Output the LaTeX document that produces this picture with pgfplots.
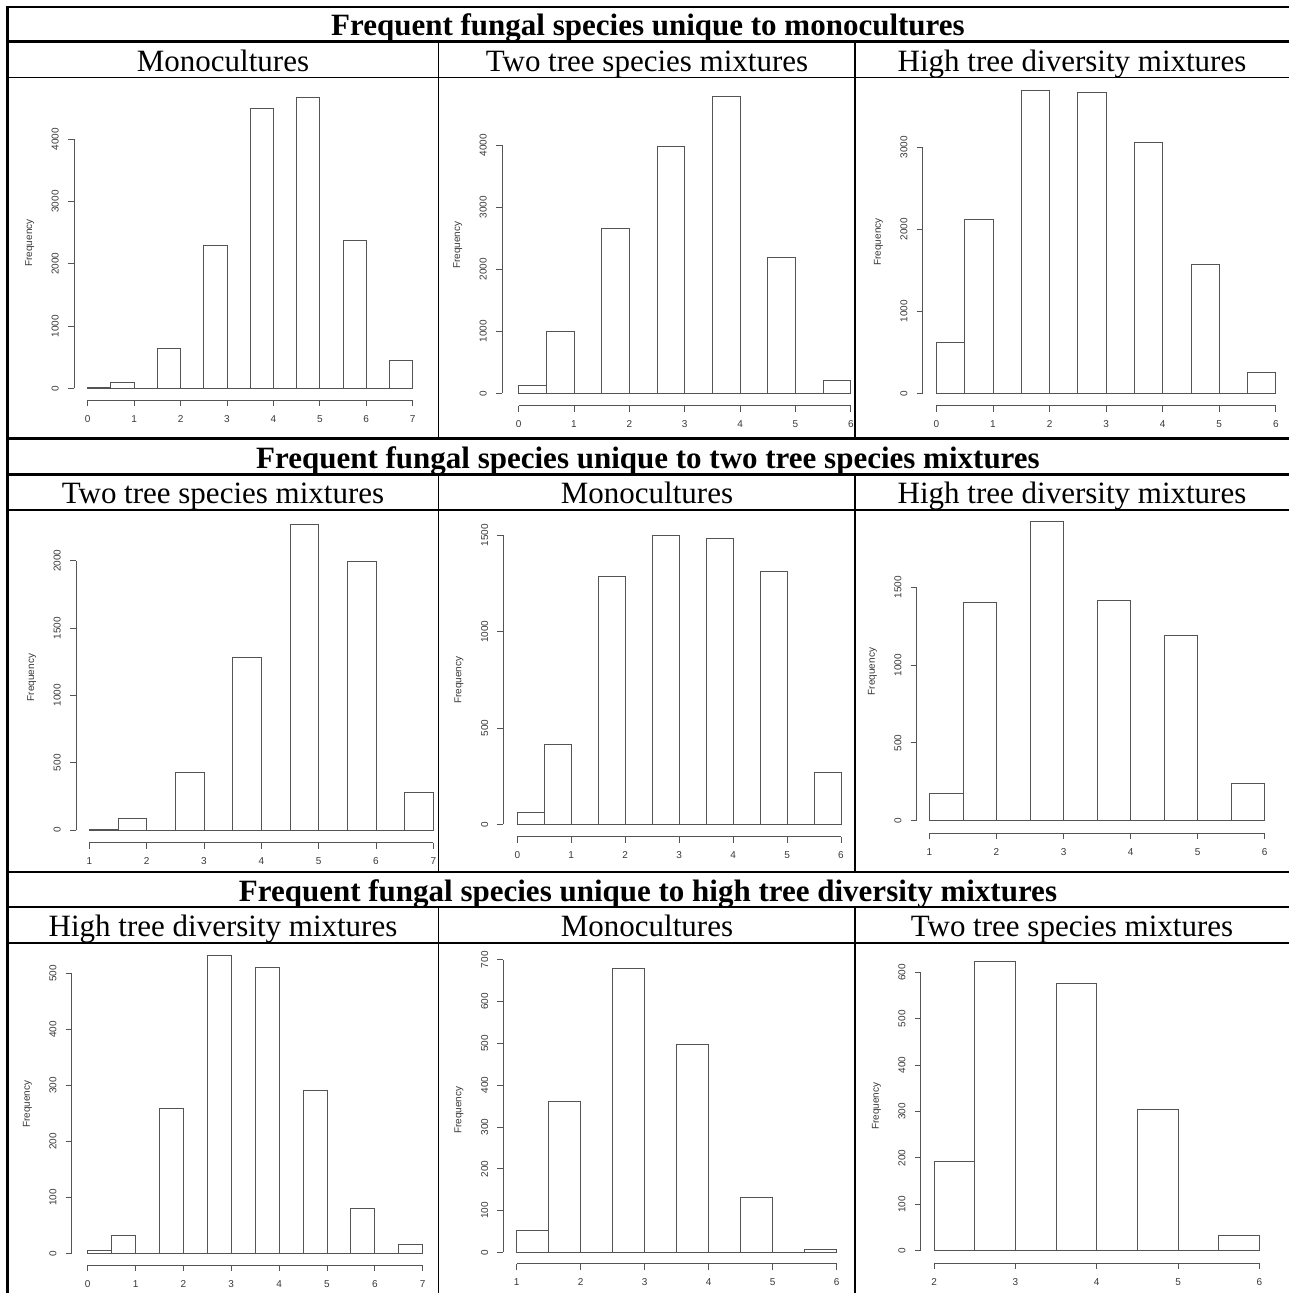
\documentclass[border=0pt]{standalone}
\usepackage{fontspec}
\setmainfont{Liberation Serif}
\setsansfont{Liberation Sans}
\usepackage{pgfplots}
\pgfplotsset{compat=1.18}
\definecolor{lc}{gray}{0.33}
\definecolor{tc}{gray}{0.22}
\pgfplotsset{
  rhist/.style={
    scale only axis, anchor=south west, clip=false,
    axis line style={draw=none},
    tick pos=left, tick align=outside,
    major tick length=6pt,
    tick style={draw=lc, line width=0.9pt},
    tick label style={font=\fontsize{10}{12}\selectfont\sffamily, text=tc, inner sep=0pt,
      /pgf/number format/assume math mode=true, /pgf/number format/1000 sep={}},
    xticklabel style={anchor=north},
    yticklabel style={rotate=90, anchor=south},
    xticklabel shift=9pt, yticklabel shift=9pt,
    scaled ticks=false,
    ylabel={Frequency},
    ylabel style={font=\fontsize{10}{12}\selectfont\sffamily, text=tc},
    ylabel shift=14pt,
  },
  hbar/.style={ybar, bar width=0.5, bar shift=0pt, draw=lc, fill=white, line width=0.9pt},
  axl/.style={draw=lc, line width=0.9pt, no marks},
}
\newcommand{\hfont}{\fontsize{31}{36}\selectfont}
\begin{document}
\begin{tikzpicture}[x=1pt, y=-1pt]
% ---------- Row 1 ----------
\begin{axis}[rhist, at={(74pt,-400pt)}, width=352.4pt, height=314pt,
  xmin=-0.295, xmax=7.295, ymin=-188, ymax=4856,
  xtick={0,...,7}, ytick={0,1000,...,4000}]
\addplot[hbar] coordinates {(0.25,8)(0.75,90)(1.25,0)(1.75,640)(2.25,0)(2.75,2290)(3.25,0)(3.75,4500)(4.25,0)(4.75,4670)(5.25,0)(5.75,2370)(6.25,0)(6.75,455)};
\addplot[axl] coordinates {(0,-188)(7,-188)};
\addplot[axl] coordinates {(-0.295,0)(-0.295,4000)};
\end{axis}
\begin{axis}[rhist, at={(502pt,-405.7pt)}, width=365.5pt, height=320.9pt,
  xmin=-0.30, xmax=6.30, ymin=-200, ymax=4976,
  xtick={0,...,6}, ytick={0,1000,...,4000}]
\addplot[hbar] coordinates {(0.25,134)(0.75,995)(1.25,0)(1.75,2667)(2.25,0)(2.75,3978)(3.25,0)(3.75,4785)(4.25,0)(4.75,2194)(5.25,0)(5.75,204)};
\addplot[axl] coordinates {(0,-200)(6,-200)};
\addplot[axl] coordinates {(-0.30,0)(-0.30,4000)};
\end{axis}
\begin{axis}[rhist, at={(922.7pt,-405.7pt)}, width=366.8pt, height=327.5pt,
  xmin=-0.242, xmax=6.242, ymin=-151, ymax=3838,
  xtick={0,...,6}, ytick={0,1000,...,3000}]
\addplot[hbar] coordinates {(0.25,621)(0.75,2123)(1.25,0)(1.75,3690)(2.25,0)(2.75,3666)(3.25,0)(3.75,3053)(4.25,0)(4.75,1567)(5.25,0)(5.75,252)};
\addplot[axl] coordinates {(0,-151)(6,-151)};
\addplot[axl] coordinates {(-0.242,0)(-0.242,3000)};
\end{axis}
% ---------- Row 2 ----------
\begin{axis}[rhist, at={(76pt,-842.7pt)}, width=370.6pt, height=330.2pt,
  xmin=0.768, xmax=7.232, ymin=-94, ymax=2358,
  xtick={1,...,7}, ytick={0,500,...,2000}]
\addplot[hbar] coordinates {(1.25,5)(1.75,87)(2.25,0)(2.75,428)(3.25,0)(3.75,1280)(4.25,0)(4.75,2267)(5.25,0)(5.75,1993)(6.25,0)(6.75,277)};
\addplot[axl] coordinates {(1,-94)(7,-94)};
\addplot[axl] coordinates {(0.768,0)(0.768,2000)};
\end{axis}
\begin{axis}[rhist, at={(503.3pt,-836.7pt)}, width=351.7pt, height=313.3pt,
  xmin=-0.26, xmax=6.26, ymin=-64, ymax=1562,
  xtick={0,...,6}, ytick={0,500,...,1500}]
\addplot[hbar] coordinates {(0.25,61)(0.75,417)(1.25,0)(1.75,1287)(2.25,0)(2.75,1502)(3.25,0)(3.75,1483)(4.25,0)(4.75,1311)(5.25,0)(5.75,272)};
\addplot[axl] coordinates {(0,-64)(6,-64)};
\addplot[axl] coordinates {(-0.26,0)(-0.26,1500)};
\end{axis}
\begin{axis}[rhist, at={(916.7pt,-833.3pt)}, width=360.8pt, height=323.6pt,
  xmin=0.81, xmax=6.19, ymin=-81, ymax=1999,
  xtick={1,...,6}, ytick={0,500,...,1500}]
\addplot[hbar] coordinates {(1.25,178)(1.75,1401)(2.25,0)(2.75,1922)(3.25,0)(3.75,1416)(4.25,0)(4.75,1189)(5.25,0)(5.75,238)};
\addplot[axl] coordinates {(1,-81)(6,-81)};
\addplot[axl] coordinates {(0.81,0)(0.81,1500)};
\end{axis}
% ---------- Row 3 ----------
\begin{axis}[rhist, at={(71.7pt,-1265pt)}, width=367.0pt, height=321.4pt,
  xmin=-0.334, xmax=7.334, ymin=-21, ymax=553,
  xtick={0,...,7}, ytick={0,100,...,500}]
\addplot[hbar] coordinates {(0.25,5)(0.75,32)(1.25,0)(1.75,259)(2.25,0)(2.75,532)(3.25,0)(3.75,511)(4.25,0)(4.75,290)(5.25,0)(5.75,80)(6.25,0)(6.75,16)};
\addplot[axl] coordinates {(0,-21)(7,-21)};
\addplot[axl] coordinates {(-0.334,0)(-0.334,500)};
\end{axis}
\begin{axis}[rhist, at={(503.3pt,-1263.7pt)}, width=346.6pt, height=306.9pt,
  xmin=0.792, xmax=6.208, ymin=-27, ymax=707,
  xtick={1,...,6}, ytick={0,100,...,700}]
\addplot[hbar] coordinates {(1.25,52)(1.75,360)(2.25,0)(2.75,680)(3.25,0)(3.75,497)(4.25,0)(4.75,132)(5.25,0)(5.75,8)};
\addplot[axl] coordinates {(1,-27)(6,-27)};
\addplot[axl] coordinates {(0.792,0)(0.792,700)};
\end{axis}
\begin{axis}[rhist, at={(920.7pt,-1263pt)}, width=352.0pt, height=313.4pt,
  xmin=1.836, xmax=6.164, ymin=-26.5, ymax=649,
  xtick={2,...,6}, ytick={0,100,...,600}]
\addplot[hbar] coordinates {(2.25,193)(2.75,624)(3.25,0)(3.75,576)(4.25,0)(4.75,304)(5.25,0)(5.75,32)};
\addplot[axl] coordinates {(2,-26.5)(6,-26.5)};
\addplot[axl] coordinates {(1.836,0)(1.836,600)};
\end{axis}
% ---------- Table grid ----------
\foreach \yy in {7,41.5,438.5,474.5,872,907} {\draw[line width=2.3pt] (6.3,\yy) -- (1289,\yy);}
\foreach \yy in {77.5,510,943} {\draw[line width=1.3pt] (6.3,\yy) -- (1289,\yy);}
\draw[line width=2.4pt] (7.5,5.85) -- (7.5,1293);
\foreach \xx in {438.5,855} {
  \draw[line width=1.6pt] (\xx,41.5) -- (\xx,438.5);
  \draw[line width=1.6pt] (\xx,474.5) -- (\xx,872);
  \draw[line width=1.6pt] (\xx,907) -- (\xx,1293);
}
% ---------- Headings ----------
\tikzset{hd/.style={anchor=base, inner sep=0pt, font=\hfont\bfseries},
         sh/.style={anchor=base, inner sep=0pt, font=\hfont}}
\node[hd] at (648,35) {Frequent fungal species unique to monocultures};
\node[hd] at (648,468.5) {Frequent fungal species unique to two tree species mixtures};
\node[hd] at (648,901) {Frequent fungal species unique to high tree diversity mixtures};
\node[sh] at (223,71) {Monocultures};
\node[sh] at (647,71) {Two tree species mixtures};
\node[sh] at (1072,71) {High tree diversity mixtures};
\node[sh] at (223,503) {Two tree species mixtures};
\node[sh] at (647,503) {Monocultures};
\node[sh] at (1072,503) {High tree diversity mixtures};
\node[sh] at (223,936) {High tree diversity mixtures};
\node[sh] at (647,936) {Monocultures};
\node[sh] at (1072,936) {Two tree species mixtures};
\pgfresetboundingbox
\path[use as bounding box] (0,0) rectangle (1289,1293);
\end{tikzpicture}
\end{document}
